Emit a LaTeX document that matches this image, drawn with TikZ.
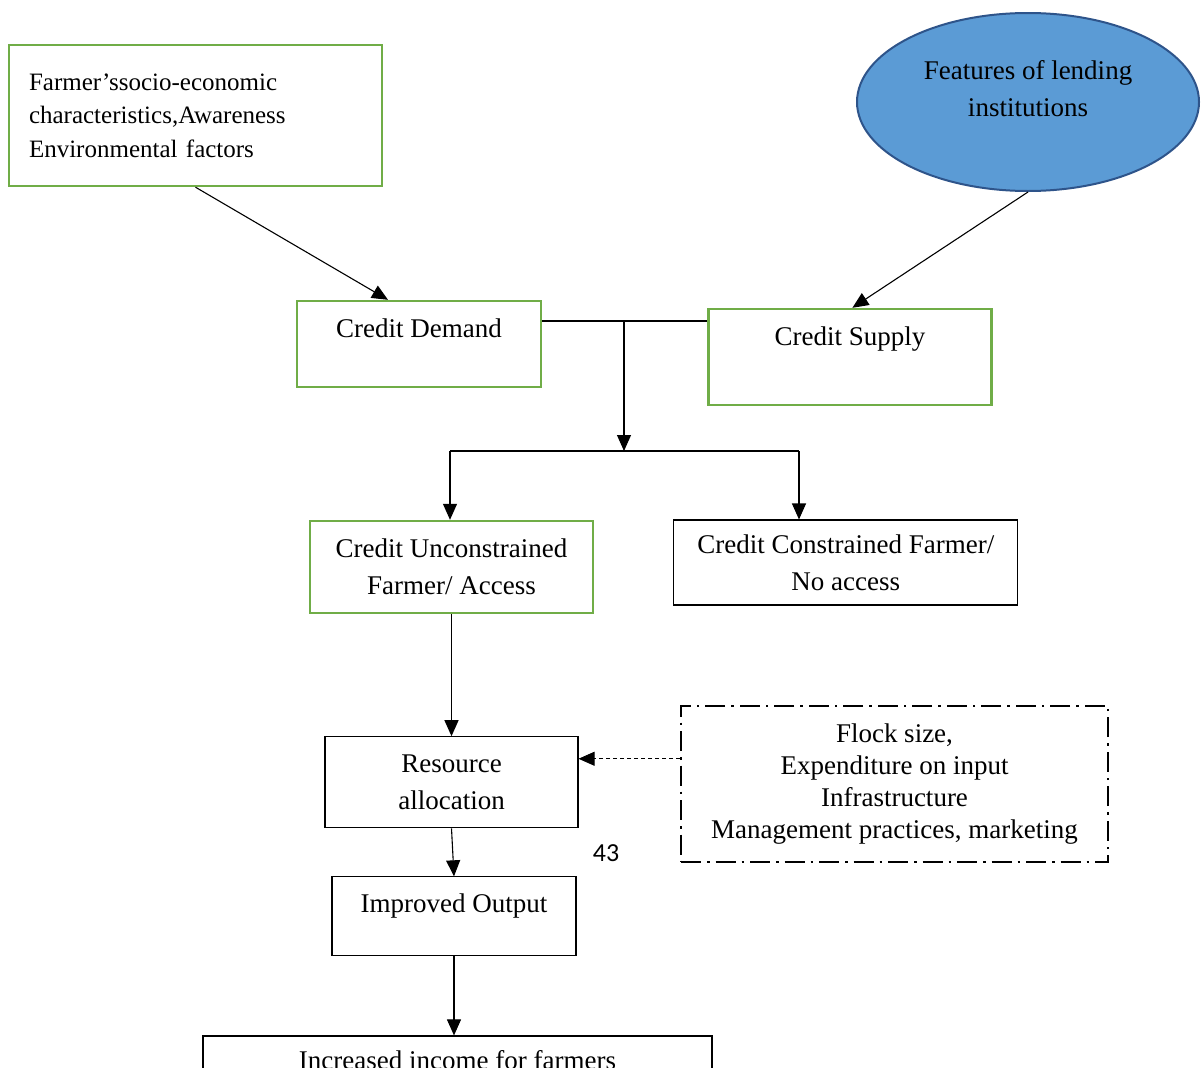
\documentclass[tikz,border=0pt]{standalone}
\usepackage{fontspec}
\setmainfont{Liberation Serif}
\newfontfamily\pagenum{Carlito}
\usepackage{tikz}
\usetikzlibrary{arrows.meta,shapes.geometric,positioning}

\definecolor{boxgreen}{RGB}{112,173,71}
\definecolor{ovalblue}{RGB}{91,155,213}
\definecolor{ovalline}{RGB}{46,84,138}

\begin{document}
\begin{tikzpicture}[x=1pt, y=-1pt, >={Triangle[length=16pt,width=14pt]}, line width=1.1pt,
    txt/.style={font=\fontsize{27}{37}\selectfont, align=center},
    greenbox/.style={txt, draw=boxgreen, line width=2.4pt},
    blackbox/.style={txt, draw, line width=1.1pt},
    dashbox/.style={txt, draw, line width=2pt, dash pattern=on 20pt off 6pt on 2.5pt off 6pt},
    arr/.style={->, line width=1.1pt}]

  \useasboundingbox[fill=white] (0,0) rectangle (1202,1068);

  % top row
  \node (fac) [greenbox, font=\fontsize{25}{33.5}\selectfont, align=left, text width=333pt, inner xsep=20pt, minimum height=141pt] at (195.5,115.5) {Farmer’ssocio-economic\\characteristics,Awareness\\Environmental factors};
  \node (feat) [ellipse, fill=ovalblue, draw=ovalline, line width=2pt, minimum width=342pt, minimum height=178pt, inner sep=0pt] at (1028,102) {};
  \node (featlbl) [txt] at ([yshift=13.5pt]feat.center) {Features of lending\\institutions};

  % demand and supply
  \node (dem) [greenbox, minimum width=244pt, inner ysep=0pt, text height=36pt, text depth=50pt] at (419,344) {Credit Demand};
  \node (sup) [greenbox, right=165pt of dem, yshift=-13pt, minimum width=283pt, inner ysep=0pt, text height=36pt, text depth=60pt] {Credit Supply};

  % access
  \node (unc) [greenbox, minimum width=283pt, minimum height=92pt] at (451.5,567) {Credit Unconstrained\\Farmer/ Access};
  \node (con) [blackbox, right=79pt of unc, yshift=4.5pt, minimum width=344pt, minimum height=85pt] {Credit Constrained Farmer/\\No access};

  % outcomes
  \node (res) [blackbox, below=122pt of unc, minimum width=253pt, minimum height=91pt] {Resource\\allocation};
  \node (fl) [dashbox, font=\fontsize{27}{32}\selectfont, minimum width=427pt, minimum height=156pt] at (894.5,784) {Flock size,\\Expenditure on input\\Infrastructure\\Management practices, marketing};
  \node (out) [blackbox, below=48pt of res, xshift=2.5pt, minimum width=244pt, inner ysep=0pt, text height=36pt, text depth=43pt] {Improved Output};
  \node (inc) [blackbox, below=79pt of out, xshift=3.5pt, minimum width=509pt, inner ysep=0pt, text height=34pt, text depth=60pt] {Increased income for farmers};
  \node (pg) [font=\pagenum\fontsize{26}{30}\selectfont] at (606,853) {43};

  \coordinate (mid) at (624,321);
  \coordinate (split) at (624,451);
  \coordinate (lb) at (450,451);
  \coordinate (rb) at (799,451);
  \coordinate (tip) at ([yshift=23.5pt]res.east);

  \draw[arr] (fac.south) -- ([xshift=-31pt]dem.north);
  \draw[arr] (feat.south) -- ([xshift=2.5pt]sup.north);
  \draw (dem.east |- mid) -- (sup.west |- mid);
  \draw[arr] (mid) -- (split);
  \draw (lb) -- (rb);
  \draw[arr] (lb) -- (unc.north -| lb);
  \draw[arr] (rb) -- (con.north -| rb);
  \draw[arr] (unc) -- (res);
  \draw[arr, line width=0.9pt, dash pattern=on 4pt off 3pt] (fl.west |- tip) -- (tip);
  \draw[arr] (res.south) -- (out.north);
  \draw[arr] (out.south) -- (out.south |- inc.north);
\end{tikzpicture}
\end{document}
